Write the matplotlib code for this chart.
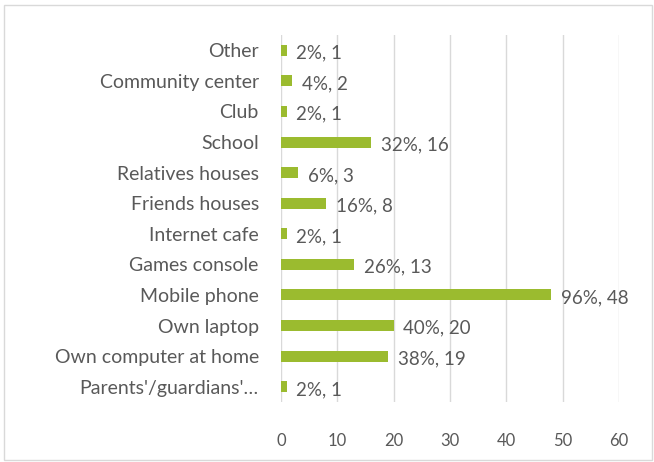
import matplotlib.pyplot as plt
from matplotlib.patches import Rectangle

plt.rcParams['font.family'] = ['Lato', 'DejaVu Sans']

categories = ["Parents'/guardians'\u2026", "Own computer at home", "Own laptop", "Mobile phone",
              "Games console", "Internet cafe", "Friends houses", "Relatives houses",
              "School", "Club", "Community center", "Other"]
counts = [1, 19, 20, 48, 13, 1, 8, 3, 16, 1, 2, 1]
percents = [2, 38, 40, 96, 26, 2, 16, 6, 32, 2, 4, 2]

bar_color = '#9BBB2F'
text_color = '#595959'
grid_color = '#D9D9D9'

fig = plt.figure(figsize=(6.54, 4.62), dpi=100)
fig.patches.append(Rectangle((4 / 654, 0.004), 648 / 654, 1 - 5 / 462 - 0.004,
                             transform=fig.transFigure, fill=False,
                             edgecolor='#D9D9D9', linewidth=1.0))
ax = fig.add_axes([281 / 654, 1 - 402 / 462, 338 / 654, 367 / 462])

y = range(len(categories))
ax.barh(y, counts, height=0.36, color=bar_color, zorder=3)
for yi, c, p in zip(y, counts, percents):
    ax.annotate(f'{p}%, {c}', (c, yi), xytext=(7, -2), textcoords='offset points',
                ha='left', va='center', fontsize=13.5, color=text_color, zorder=4)

ax.set_xlim(0, 60)
ax.set_ylim(-0.5, len(categories) - 0.5)
ax.set_xticks(range(0, 61, 10))
ax.set_yticks(list(y))
ax.set_yticklabels(categories)
ax.tick_params(axis='y', length=0, pad=16, labelsize=14, labelcolor=text_color)
ax.tick_params(axis='x', length=0, pad=22, labelsize=12, labelcolor=text_color)
ax.grid(axis='x', color=grid_color, linewidth=1.0, zorder=0)
for s in ax.spines.values():
    s.set_visible(False)

fig.savefig('out.png', dpi=100)
